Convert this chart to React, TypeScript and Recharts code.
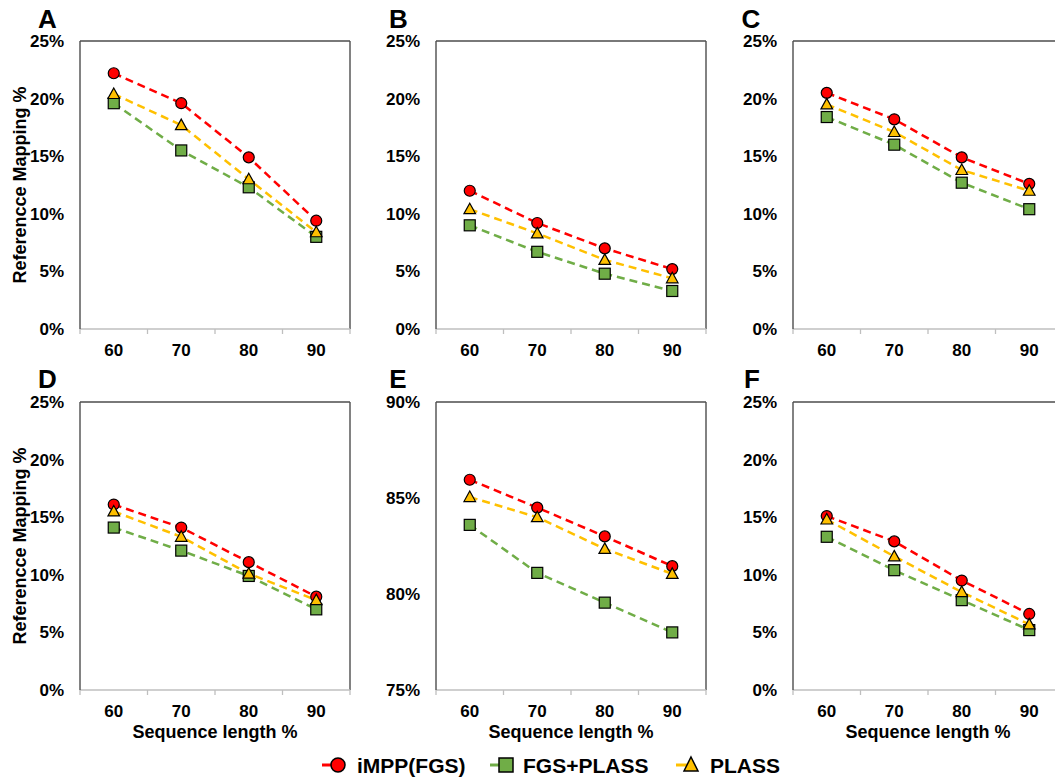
import React from 'react';
import { LineChart, Line, XAxis, YAxis, ReferenceLine } from 'recharts';

const seqLength = [60, 70, 80, 90];
const xTicks = [55, 60, 65, 70, 75, 80, 85, 90, 95];
const pctTicks = [0, 5, 10, 15, 20, 25];
const pctTicksE = [75, 80, 85, 90];

const seriesNames = ['iMPP(FGS)', 'FGS+PLASS', 'PLASS'];

const aImpp = [22.2, 19.6, 14.9, 9.4];
const aFgsPlass = [19.6, 15.5, 12.3, 8.0];
const aPlass = [20.4, 17.7, 13.0, 8.4];

const bImpp = [12.0, 9.2, 7.0, 5.2];
const bFgsPlass = [9.0, 6.7, 4.8, 3.3];
const bPlass = [10.4, 8.3, 6.0, 4.4];

const cImpp = [20.5, 18.2, 14.9, 12.6];
const cFgsPlass = [18.4, 16.0, 12.7, 10.4];
const cPlass = [19.5, 17.1, 13.8, 12.0];

const dImpp = [16.1, 14.1, 11.1, 8.1];
const dFgsPlass = [14.1, 12.1, 9.9, 7.0];
const dPlass = [15.5, 13.3, 10.1, 7.8];

const eImpp = [85.95, 84.5, 83.0, 81.45];
const eFgsPlass = [83.6, 81.1, 79.55, 78.0];
const ePlass = [85.05, 84.0, 82.35, 81.05];

const fImpp = [15.1, 12.9, 9.5, 6.6];
const fFgsPlass = [13.3, 10.4, 7.8, 5.2];
const fPlass = [14.8, 11.6, 8.5, 5.7];

const FONT = '"Liberation Sans", Arial, sans-serif';
const RED = '#ff0000';
const GREEN = '#70ad47';
const YELLOW = '#ffc000';
const FRAME = '#4d4d4d';
const AXIS_GREY = '#bfbfbf';

const CircleDot = (props: any) => {
  const { cx, cy, index } = props;
  if (cx == null || cy == null) return <g key={`c${index}`} />;
  return <circle key={`c${index}`} cx={cx} cy={cy} r={5.5} fill={RED} stroke="#000" strokeWidth={1.2} />;
};
const SquareDot = (props: any) => {
  const { cx, cy, index } = props;
  if (cx == null || cy == null) return <g key={`s${index}`} />;
  return <rect key={`s${index}`} x={cx - 5.5} y={cy - 5.5} width={11} height={11} fill={GREEN} stroke="#000" strokeWidth={1.2} />;
};
const TriangleDot = (props: any) => {
  const { cx, cy, index } = props;
  if (cx == null || cy == null) return <g key={`t${index}`} />;
  const p = `${cx},${cy - 6} ${cx + 5.8},${cy + 4.5} ${cx - 5.8},${cy + 4.5}`;
  return <polygon key={`t${index}`} points={p} fill={YELLOW} stroke="#000" strokeWidth={1.2} />;
};

const XTick = (props: any) => {
  const { x, y, payload } = props;
  const v = payload.value;
  if (seqLength.includes(v)) {
    return (
      <text x={x} y={y + 21} textAnchor="middle" dominantBaseline="central" fontSize={17} fontWeight="bold" fontFamily={FONT} fill="#000">
        {v}
      </text>
    );
  }
  return <line x1={x} x2={x} y1={y} y2={y + 5} stroke={AXIS_GREY} strokeWidth={1.3} />;
};

type PanelProps = {
  plotLeft: number;
  plotTop: number;
  impp: number[];
  fgs: number[];
  plass: number[];
  yTicks: number[];
};

const PLOT_W = 270;
const PLOT_H = 288;
const Y_W = 80;

const Panel = ({ plotLeft, plotTop, impp, fgs, plass, yTicks }: PanelProps) => {
  const data = seqLength.map((x, i) => ({ x, impp: impp[i], fgs: fgs[i], plass: plass[i] }));
  const yMin = yTicks[0];
  const yMax = yTicks[yTicks.length - 1];
  return (
    <div style={{ position: 'absolute', left: plotLeft - Y_W, top: plotTop - 10 }}>
      <LineChart width={Y_W + PLOT_W + 10} height={10 + PLOT_H + 40} data={data} margin={{ top: 10, right: 10, left: 0, bottom: 0 }}>
        <XAxis
          dataKey="x"
          type="number"
          domain={[55, 95]}
          ticks={xTicks}
          interval={0}
          tickLine={false}
          tickSize={0}
          tickMargin={0}
          height={40}
          axisLine={{ stroke: AXIS_GREY, strokeWidth: 1.3 }}
          tick={<XTick />}
        />
        <YAxis
          type="number"
          domain={[yMin, yMax]}
          ticks={yTicks}
          interval={0}
          width={Y_W}
          tickLine={false}
          tickSize={0}
          tickMargin={16}
          axisLine={{ stroke: FRAME, strokeWidth: 1.4 }}
          tickFormatter={(v: number) => `${v}%`}
          tick={{ fill: '#000', fontSize: 17, fontWeight: 'bold', fontFamily: FONT }}
        />
        <ReferenceLine y={yMax} stroke={FRAME} strokeWidth={1.4} />
        <ReferenceLine x={95} stroke={FRAME} strokeWidth={1.4} />
        <Line dataKey="impp" name={seriesNames[0]} stroke={RED} strokeWidth={2.5} strokeDasharray="8 5" dot={CircleDot} activeDot={false} isAnimationActive={false} />
        <Line dataKey="fgs" name={seriesNames[1]} stroke={GREEN} strokeWidth={2.5} strokeDasharray="8 5" dot={SquareDot} activeDot={false} isAnimationActive={false} />
        <Line dataKey="plass" name={seriesNames[2]} stroke={YELLOW} strokeWidth={2.5} strokeDasharray="8 5" dot={TriangleDot} activeDot={false} isAnimationActive={false} />
      </LineChart>
    </div>
  );
};

const textStyle = { fontFamily: FONT, fontWeight: 'bold' as const, fill: '#000' };

export default function App() {
  return (
    <div style={{ position: 'absolute', left: 0, top: 0, width: 1055, height: 780, overflow: 'hidden', background: '#fff' }}>
      <Panel plotLeft={80} plotTop={41} impp={aImpp} fgs={aFgsPlass} plass={aPlass} yTicks={pctTicks} />
      <Panel plotLeft={436} plotTop={41} impp={bImpp} fgs={bFgsPlass} plass={bPlass} yTicks={pctTicks} />
      <Panel plotLeft={793} plotTop={41} impp={cImpp} fgs={cFgsPlass} plass={cPlass} yTicks={pctTicks} />
      <Panel plotLeft={80} plotTop={402} impp={dImpp} fgs={dFgsPlass} plass={dPlass} yTicks={pctTicks} />
      <Panel plotLeft={436} plotTop={402} impp={eImpp} fgs={eFgsPlass} plass={ePlass} yTicks={pctTicksE} />
      <Panel plotLeft={793} plotTop={402} impp={fImpp} fgs={fFgsPlass} plass={fPlass} yTicks={pctTicks} />
      <svg width={1055} height={780} style={{ position: 'absolute', left: 0, top: 0, pointerEvents: 'none' }}>
        <text x={47.5} y={19} textAnchor="middle" dominantBaseline="central" fontSize={26} {...textStyle}>A</text>
        <text x={398.5} y={19} textAnchor="middle" dominantBaseline="central" fontSize={26} {...textStyle}>B</text>
        <text x={751} y={19} textAnchor="middle" dominantBaseline="central" fontSize={26} {...textStyle}>C</text>
        <text x={47.5} y={379} textAnchor="middle" dominantBaseline="central" fontSize={26} {...textStyle}>D</text>
        <text x={398} y={379} textAnchor="middle" dominantBaseline="central" fontSize={26} {...textStyle}>E</text>
        <text x={752} y={379} textAnchor="middle" dominantBaseline="central" fontSize={26} {...textStyle}>F</text>

        <text x={20} y={185} transform="rotate(-90 20 185)" textAnchor="middle" dominantBaseline="central" fontSize={18} {...textStyle}>Referencce Mapping %</text>
        <text x={20} y={546} transform="rotate(-90 20 546)" textAnchor="middle" dominantBaseline="central" fontSize={18} {...textStyle}>Referencce Mapping %</text>

        <text x={215} y={732} textAnchor="middle" dominantBaseline="central" fontSize={18} {...textStyle}>Sequence length %</text>
        <text x={571} y={732} textAnchor="middle" dominantBaseline="central" fontSize={18} {...textStyle}>Sequence length %</text>
        <text x={928} y={732} textAnchor="middle" dominantBaseline="central" fontSize={18} {...textStyle}>Sequence length %</text>

        <line x1={322} x2={338} y1={765} y2={765} stroke={RED} strokeWidth={3} />
        <circle cx={338} cy={765} r={7} fill={RED} stroke="#000" strokeWidth={1.5} />
        <text x={357} y={765} dominantBaseline="central" fontSize={21} {...textStyle}>{seriesNames[0]}</text>

        <line x1={490} x2={506} y1={765} y2={765} stroke={GREEN} strokeWidth={3} />
        <rect x={499} y={758} width={14} height={14} fill={GREEN} stroke="#000" strokeWidth={1.5} />
        <text x={523} y={765} dominantBaseline="central" fontSize={21} {...textStyle}>{seriesNames[1]}</text>

        <line x1={676} x2={691} y1={765} y2={765} stroke={YELLOW} strokeWidth={3} />
        <polygon points="691,757 698,771 684,771" fill={YELLOW} stroke="#000" strokeWidth={1.5} />
        <text x={710} y={765} dominantBaseline="central" fontSize={21} {...textStyle}>{seriesNames[2]}</text>
      </svg>
    </div>
  );
}
